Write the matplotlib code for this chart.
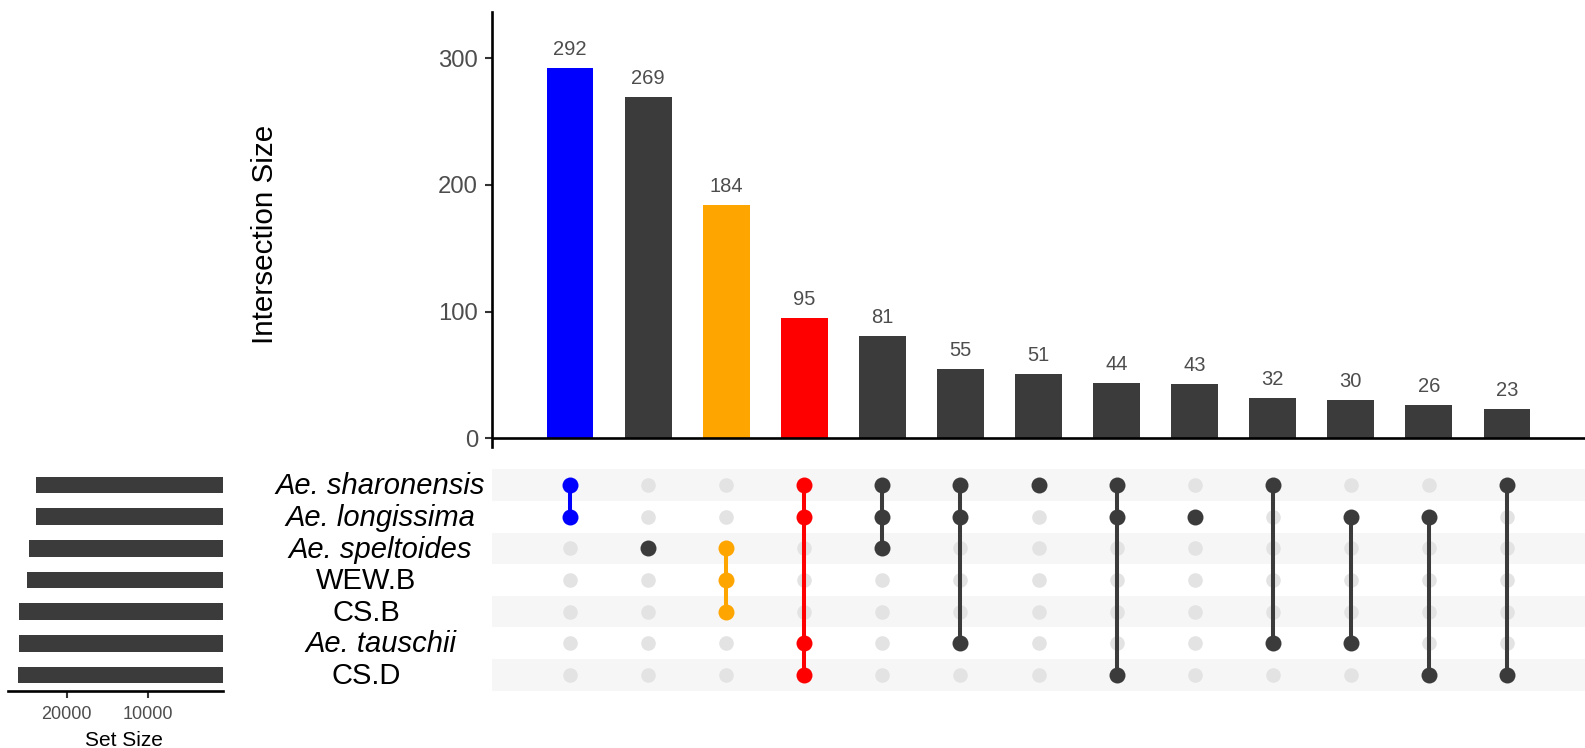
import matplotlib.pyplot as plt
import matplotlib.transforms as mtransforms

plt.rcParams['font.family'] = ['Liberation Sans', 'DejaVu Sans']

# data
sets = ['Ae. sharonensis', 'Ae. longissima', 'Ae. speltoides', 'WEW.B', 'CS.B', 'Ae. tauschii', 'CS.D']
set_italic = [True, True, True, False, False, True, False]
set_sizes = [23800, 23830, 24620, 24900, 25930, 25950, 26050]

counts = [292, 269, 184, 95, 81, 55, 51, 44, 43, 32, 30, 26, 23]
members = [
    ['Ae. sharonensis', 'Ae. longissima'],
    ['Ae. speltoides'],
    ['Ae. speltoides', 'WEW.B', 'CS.B'],
    ['Ae. sharonensis', 'Ae. longissima', 'Ae. tauschii', 'CS.D'],
    ['Ae. sharonensis', 'Ae. longissima', 'Ae. speltoides'],
    ['Ae. sharonensis', 'Ae. longissima', 'Ae. tauschii'],
    ['Ae. sharonensis'],
    ['Ae. sharonensis', 'Ae. longissima', 'CS.D'],
    ['Ae. longissima'],
    ['Ae. sharonensis', 'Ae. tauschii'],
    ['Ae. longissima', 'Ae. tauschii'],
    ['Ae. longissima', 'CS.D'],
    ['Ae. sharonensis', 'CS.D'],
]
dark = '#3B3B3B'
highlight = {0: 'blue', 2: 'orange', 3: 'red'}
bar_colors = [highlight.get(i, dark) for i in range(len(counts))]

W, H = 1585, 748
fig = plt.figure(figsize=(W / 100, H / 100), dpi=100)


def rect(l, t, r, b):
    return [l / W, 1 - b / H, (r - l) / W, (b - t) / H]


ax_bar = fig.add_axes(rect(492, 11.7, 1585, 446.7))
ax_mat = fig.add_axes(rect(492, 469.2, 1585, 690.8))
ax_set = fig.add_axes(rect(8.3, 469.2, 222.7, 690.8))

# intersection bars
xs = list(range(1, len(counts) + 1))
ax_bar.bar(xs, counts, width=0.6, color=bar_colors)
for x, c in zip(xs, counts):
    ax_bar.annotate(str(c), (x, c), xytext=(0, 9.4), textcoords='offset points',
                    ha='center', va='baseline', fontsize=14.5, color='#4D4D4D')
ax_bar.axhline(0, color='black', lw=1.9)
ax_bar.set_xlim(0, 14)
ax_bar.set_ylim(-6.6, 336.7)
for s in ['top', 'right', 'bottom']:
    ax_bar.spines[s].set_visible(False)
ax_bar.spines['left'].set_linewidth(1.9)
ax_bar.set_xticks([])
ax_bar.set_yticks([0, 100, 200, 300])
ax_bar.tick_params(axis='y', length=5, width=1.5, color='#333333',
                   labelsize=17.2, labelcolor='#4D4D4D', pad=5)
fig.text(265 / W, 1 - 234 / H, 'Intersection Size', rotation=90,
         ha='center', va='center', fontsize=21.3)

# matrix
nrow = len(sets)
for i in range(0, nrow, 2):
    ax_mat.axhspan(i + 0.5, i + 1.5, color='#F6F6F6', lw=0)
for j, mem in enumerate(members):
    x = j + 1
    ax_mat.plot([x] * nrow, range(1, nrow + 1), 'o', ms=10.5, color='#E3E3E3', mec='none')
    rows = [sets.index(m) + 1 for m in mem]
    col = bar_colors[j]
    if len(rows) > 1:
        ax_mat.plot([x, x], [min(rows), max(rows)], color=col, lw=2.9, solid_capstyle='butt')
    ax_mat.plot([x] * len(rows), rows, 'o', ms=11.5, color=col, mec='none')
ax_mat.set_xlim(0, 14)
ax_mat.set_ylim(nrow + 0.5, 0.5)
ax_mat.axis('off')

# set names
trans = mtransforms.blended_transform_factory(fig.transFigure, ax_mat.transData)
for i, (name, it) in enumerate(zip(sets, set_italic)):
    xc = 380.5 if it else 366
    ax_mat.text(xc / W, i + 1 + 0.29, name, transform=trans, ha='center', va='baseline',
                fontsize=21, style='italic' if it else 'normal', clip_on=False)

# set sizes
ax_set.barh(range(1, nrow + 1), set_sizes, height=0.52, color=dark)
ax_set.set_xlim(27210, 741)
ax_set.set_ylim(nrow + 0.5, 0.5)
for s in ['top', 'right', 'left']:
    ax_set.spines[s].set_visible(False)
ax_set.spines['bottom'].set_linewidth(1.9)
ax_set.set_yticks([])
ax_set.set_xticks([20000, 10000])
ax_set.tick_params(axis='x', length=5, width=1.5, color='#333333',
                   labelsize=13, labelcolor='#4D4D4D', pad=6)
fig.text(124 / W, 1 - 746 / H, 'Set Size', ha='center', va='baseline', fontsize=15)

fig.savefig('out.png', dpi=100)
